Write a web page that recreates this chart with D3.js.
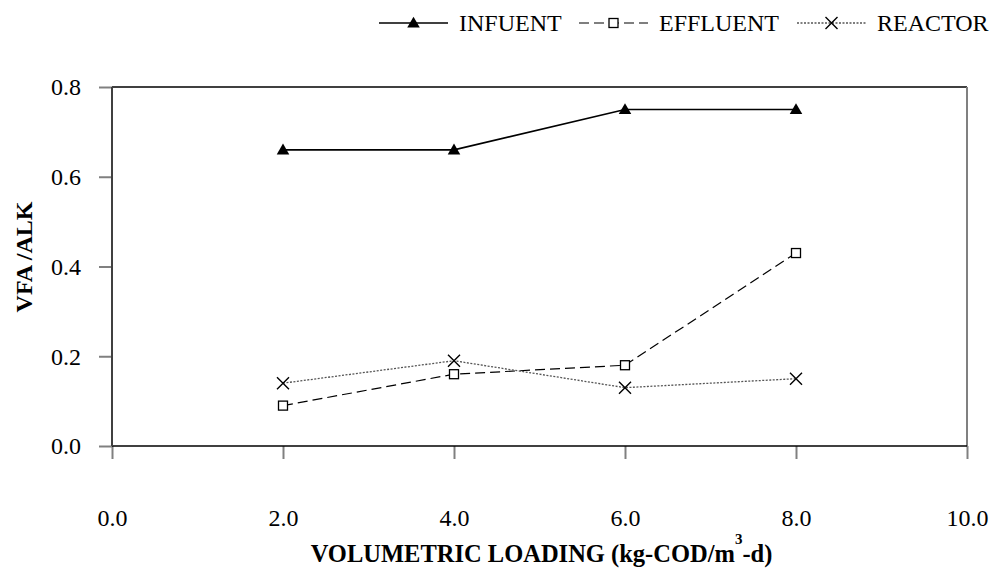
<!DOCTYPE html>
<html>
<head>
<meta charset="utf-8">
<script src="https://cdn.jsdelivr.net/npm/d3@7"></script>
<style>
  html, body { margin: 0; padding: 0; background: #fff; }
  svg { display: block; font-family: "Liberation Serif", "Times New Roman", serif; }
</style>
</head>
<body>
<svg id="chart" width="994" height="569"></svg>
<script>
// Volumetric loading (kg-COD/m3-d)
const loading = [2, 4, 6, 8];
// VFA / alkalinity ratios
const influent = [0.66, 0.66, 0.75, 0.75];
const effluent = [0.09, 0.16, 0.18, 0.43];
const reactor  = [0.14, 0.19, 0.13, 0.15];
const xTicks = [0, 2, 4, 6, 8, 10];
const yTicks = [0, 0.2, 0.4, 0.6, 0.8];
const seriesNames = ["INFUENT", "EFFLUENT", "REACTOR"];

const svg = d3.select("#chart");
const fontSize = 24;

const x = d3.scaleLinear().domain([0, 10]).range([112, 967]);
const y = d3.scaleLinear().domain([0, 0.8]).range([446, 87]);

// Frame: top border and right border
svg.append("line")
  .attr("x1", x(0)).attr("x2", x(10))
  .attr("y1", y(0.8)).attr("y2", y(0.8))
  .attr("stroke", "#000").attr("stroke-width", 1.5);
svg.append("line")
  .attr("x1", x(10)).attr("x2", x(10))
  .attr("y1", y(0.8)).attr("y2", y(0))
  .attr("stroke", "#808080").attr("stroke-width", 2);

// X axis (ticks hang below the baseline)
const xAxis = svg.append("g")
  .attr("transform", `translate(0,${y(0)})`)
  .call(d3.axisBottom(x).tickValues(xTicks).tickSize(13).tickFormat(d3.format(".1f")));
xAxis.select(".domain").remove();
xAxis.selectAll(".tick line").attr("stroke", "#808080").attr("stroke-width", 2);
xAxis.selectAll(".tick text")
  .attr("font-family", "Liberation Serif")
  .attr("font-size", fontSize).attr("fill", "#000")
  .attr("dy", null).attr("y", 80);
svg.append("line")
  .attr("x1", x(0)).attr("x2", x(10))
  .attr("y1", y(0)).attr("y2", y(0))
  .attr("stroke", "#000").attr("stroke-width", 1.5);

// Y axis
const yAxis = svg.append("g")
  .attr("transform", `translate(${x(0)},0)`)
  .call(d3.axisLeft(y).tickValues(yTicks).tickSize(13).tickFormat(d3.format(".1f")));
yAxis.select(".domain").remove();
yAxis.selectAll(".tick line").attr("stroke", "#808080").attr("stroke-width", 2);
yAxis.selectAll(".tick text")
  .attr("font-family", "Liberation Serif")
  .attr("font-size", fontSize).attr("fill", "#000")
  .attr("x", -31).attr("dy", "0.33em");
svg.append("line")
  .attr("x1", x(0)).attr("x2", x(0))
  .attr("y1", y(0.8)).attr("y2", y(0))
  .attr("stroke", "#404040").attr("stroke-width", 2);

// Axis titles
const xTitle = svg.append("text")
  .attr("x", (x(0) + x(10)) / 2 + 2).attr("y", 562)
  .attr("text-anchor", "middle")
  .attr("font-size", 24.5).attr("font-weight", "bold");
xTitle.append("tspan").text("VOLUMETRIC LOADING (kg-COD/m");
xTitle.append("tspan").attr("dy", -18).attr("font-size", 15).text("3");
xTitle.append("tspan").attr("dy", 18).text("-d)");

svg.append("text")
  .attr("transform", `translate(32,257) rotate(-90)`)
  .attr("text-anchor", "middle")
  .attr("font-size", fontSize).attr("font-weight", "bold")
  .text("VFA /ALK");

// Series definitions
const series = [
  { name: seriesNames[0], values: influent, dash: null, stroke: "#000", width: 1.6, marker: "triangle" },
  { name: seriesNames[1], values: effluent, dash: "10,5", stroke: "#000", width: 1.2, marker: "square" },
  { name: seriesNames[2], values: reactor, dash: "2,1.5", stroke: "#555", width: 1.3, marker: "cross" }
];

function drawMarker(g, type, cx, cy) {
  if (type === "triangle") {
    g.append("path")
      .attr("d", d3.symbol().type(d3.symbolTriangle).size(68)())
      .attr("transform", `translate(${cx},${cy + 1})`)
      .attr("fill", "#000");
  } else if (type === "square") {
    g.append("rect")
      .attr("x", cx - 4.5).attr("y", cy - 4.5)
      .attr("width", 9).attr("height", 9)
      .attr("fill", "#fff").attr("stroke", "#000").attr("stroke-width", 1.3);
  } else {
    g.append("path")
      .attr("d", `M${cx - 6},${cy - 6}L${cx + 6},${cy + 6}M${cx - 6},${cy + 6}L${cx + 6},${cy - 6}`)
      .attr("stroke", "#000").attr("stroke-width", 1.4).attr("fill", "none");
  }
}

const line = d3.line().x(d => x(d[0])).y(d => y(d[1]));

series.forEach(s => {
  const pts = loading.map((l, i) => [l, s.values[i]]);
  svg.append("path")
    .datum(pts)
    .attr("d", line)
    .attr("fill", "none")
    .attr("stroke", s.stroke)
    .attr("stroke-width", s.width)
    .attr("stroke-dasharray", s.dash);
  const g = svg.append("g");
  pts.forEach(p => drawMarker(g, s.marker, x(p[0]), y(p[1])));
});

// Legend
const legendX = [379, 579, 797];
series.forEach((s, i) => {
  const lx = legendX[i], ly = 23;
  svg.append("line")
    .attr("x1", lx).attr("x2", lx + 69)
    .attr("y1", ly).attr("y2", ly)
    .attr("stroke", s.stroke).attr("stroke-width", s.width)
    .attr("stroke-dasharray", s.dash);
  drawMarker(svg, s.marker, lx + 34.5, ly);
  svg.append("text")
    .attr("x", lx + 80).attr("y", ly + 8)
    .attr("font-size", fontSize)
    .text(s.name);
});
</script>
</body>
</html>
